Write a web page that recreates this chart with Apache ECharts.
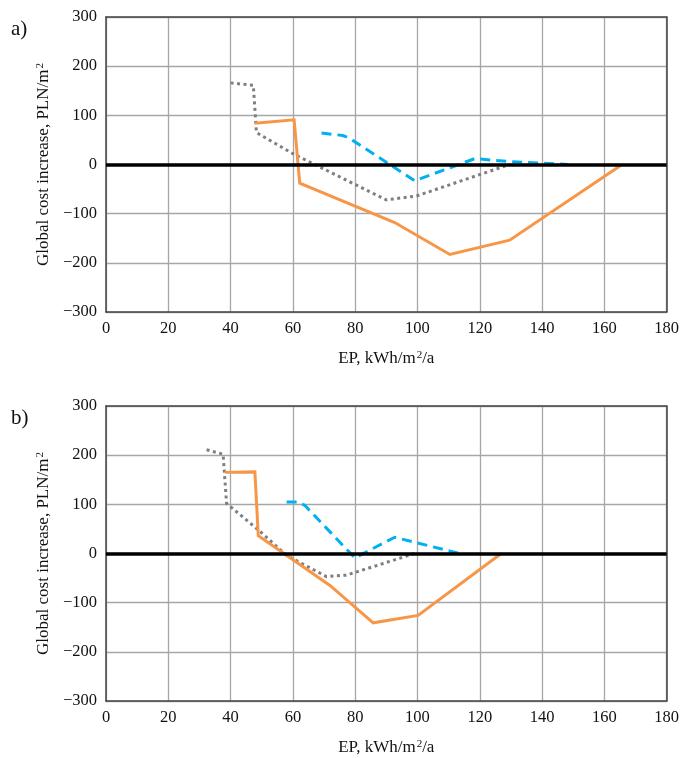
<!DOCTYPE html>
<html>
<head>
<meta charset="utf-8">
<script src="https://cdn.jsdelivr.net/npm/echarts@6/dist/echarts.min.js"></script>
<style>
html,body{margin:0;padding:0;background:#fff;}
#c{width:682px;height:758px;}
</style>
</head>
<body>
<div id="c"></div>
<script>
// ---- data ----
const xTicks = [0, 20, 40, 60, 80, 100, 120, 140, 160, 180];
const yTicks = [-300, -200, -100, 0, 100, 200, 300];
const panelLabels = ['a)', 'b)'];
const xTitle = 'EP, kWh/m{sup|2}/a';
const yTitle = 'Global cost increase, PLN/m{sup|2}';

// panel a
const aOrange = [[47.8, 84], [60.4, 91], [62.2, -38], [92.7, -118], [110.4, -183], [129.6, -154], [165.7, 0]];
const aBlue = [[69.2, 64], [76, 59], [78, 54], [99.1, -33], [118.4, 12], [129.6, 6], [148.3, 0]];
const aGrey = [[40, 166], [47.3, 161], [48.3, 65], [60, 22], [90, -72], [99.7, -64], [129.6, 0]];
// panel b
const bOrange = [[38.2, 165], [47.8, 166], [48.9, 36], [71.9, -65], [85.8, -141], [100.2, -126], [126.9, 0]];
const bBlue = [[58, 105], [61.7, 105], [63.8, 98], [79.9, -9], [92.7, 33], [113.6, 0]];
const bGrey = [[32.3, 211], [37.6, 202], [38.7, 102], [48.9, 48], [58, -4], [70.8, -47], [77.2, -44], [99.1, 0]];

const FONT = '"Liberation Serif", "DejaVu Serif", serif';
const chart = echarts.init(document.getElementById('c'), null, {renderer: 'canvas'});

const grids = [
  {left: 106, right: 15, top: 17, bottom: 446},
  {left: 106, right: 15, top: 406, bottom: 57}
];
const supRich = {sup: {fontFamily: FONT, fontSize: 11, color: '#111', padding: [0, 0, 7, 1]}};

function xAxis(i) {
  return {
    type: 'value', gridIndex: i, min: xTicks[0], max: xTicks[xTicks.length - 1], interval: 20,
    name: xTitle, nameLocation: 'middle', nameGap: 38,
    nameTextStyle: {fontFamily: FONT, fontSize: 17, color: '#111', rich: supRich},
    axisLine: {show: true, onZero: false, lineStyle: {color: '#444', width: 1.5}},
    axisTick: {show: false},
    axisLabel: {fontFamily: FONT, fontSize: 16.5, color: '#111', margin: 8},
    splitLine: {show: true, lineStyle: {color: '#a6a6a6', width: 1.3}}
  };
}
function yAxis(i) {
  return {
    type: 'value', gridIndex: i, min: yTicks[0], max: yTicks[yTicks.length - 1], interval: 100,
    name: yTitle, nameLocation: 'middle', nameGap: 46,
    nameTextStyle: {fontFamily: FONT, fontSize: 17, color: '#111', rich: supRich},
    axisLine: {show: true, onZero: false, lineStyle: {color: '#444', width: 1.5}},
    axisTick: {show: false},
    axisLabel: {fontFamily: FONT, fontSize: 16.5, color: '#111', margin: 9,
      formatter: v => (v < 0 ? '\u2212' + Math.abs(v) : String(v))},
    splitLine: {show: true, lineStyle: {color: '#a6a6a6', width: 1.3}}
  };
}
// frame axes (top/right borders)
function frameX(i) {
  return {type: 'value', gridIndex: i, position: 'top', min: 0, max: 180,
    axisLine: {show: true, onZero: false, lineStyle: {color: '#444', width: 1.5}},
    axisTick: {show: false}, axisLabel: {show: false}, splitLine: {show: false}};
}
function frameY(i) {
  return {type: 'value', gridIndex: i, position: 'right', min: -300, max: 300,
    axisLine: {show: true, onZero: false, lineStyle: {color: '#444', width: 1.5}},
    axisTick: {show: false}, axisLabel: {show: false}, splitLine: {show: false}};
}

function lineSeries(data, i, color, type, width) {
  return {
    type: 'line', xAxisIndex: i, yAxisIndex: i, data: data, symbol: 'none',
    lineStyle: {color: color, width: width, type: type, cap: 'butt', join: 'miter'},
    z: 3, silent: true
  };
}
function zeroLine(i) {
  return {
    type: 'line', xAxisIndex: i, yAxisIndex: i, data: [], symbol: 'none',
    markLine: {silent: true, symbol: 'none', label: {show: false},
      lineStyle: {color: '#000', width: 3.5, type: 'solid'},
      data: [{yAxis: 0}]},
    z: 2
  };
}

const series = [];
const panels = [[aOrange, aBlue, aGrey], [bOrange, bBlue, bGrey]];
panels.forEach((p, i) => {
  series.push(zeroLine(i));
  series.push(lineSeries(p[2], i, '#7f7f7f', [3, 3.5], 3));
  series.push(lineSeries(p[1], i, '#00b0f0', [10, 6], 3));
  series.push(lineSeries(p[0], i, '#f79646', 'solid', 3));
});

chart.setOption({
  animation: false,
  backgroundColor: '#fff',
  grid: grids,
  xAxis: [xAxis(0), xAxis(1), frameX(0), frameX(1)],
  yAxis: [yAxis(0), yAxis(1), frameY(0), frameY(1)],
  title: [
    {text: panelLabels[0], left: 6, top: 14, textStyle: {fontFamily: FONT, fontSize: 21, fontWeight: 'normal', color: '#111'}},
    {text: panelLabels[1], left: 6, top: 403, textStyle: {fontFamily: FONT, fontSize: 21, fontWeight: 'normal', color: '#111'}}
  ],
  series: series
});
</script>
</body>
</html>
